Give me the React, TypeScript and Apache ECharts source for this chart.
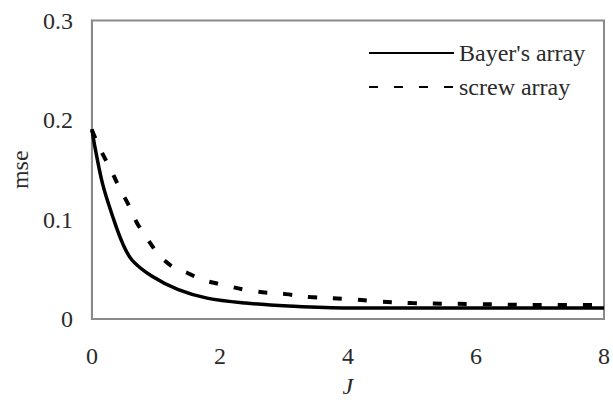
import React, { useEffect, useRef } from "react";
import * as echarts from "echarts";

const bayerJ = [0, 0.05, 0.17, 0.33, 0.48, 0.63, 0.94, 1.35, 1.8, 2.4, 3.07, 4, 5, 6, 7, 8];
const bayerMse = [0.191, 0.172, 0.135, 0.102, 0.076, 0.059, 0.043, 0.0295, 0.021, 0.016, 0.013, 0.011, 0.011, 0.011, 0.011, 0.011];

const screwJ = [0, 0.12, 0.28, 0.43, 0.57, 0.7, 0.83, 1.01, 1.14, 1.3, 1.5, 1.7, 2.0, 2.52, 3.03, 3.41, 4.02, 4.4, 5.0, 6.0, 7.0, 8.0];
const screwMse = [0.19, 0.172, 0.152, 0.132, 0.115, 0.097, 0.084, 0.0675, 0.0585, 0.051, 0.046, 0.04, 0.035, 0.028, 0.025, 0.022, 0.02, 0.018, 0.016, 0.015, 0.014, 0.014];

const seriesNames = ["Bayer's array", "screw array"];
const xTicks = { min: 0, max: 8, interval: 2 };
const yTicks = { min: 0, max: 0.3, interval: 0.1 };

const FONT = "'Liberation Serif', 'Times New Roman', serif";
const TEXT = "#2a2a2a";

export default function App() {
  const ref = useRef<HTMLDivElement>(null);
  useEffect(() => {
    if (!ref.current) return;
    const chart = echarts.init(ref.current, null, { renderer: "svg" });
    chart.setOption({
      animation: false,
      backgroundColor: "#ffffff",
      textStyle: { fontFamily: FONT },
      grid: {
        left: 82,
        right: 8,
        top: 20.5,
        bottom: 80,
        show: true,
        borderColor: "#8a8a8a",
        borderWidth: 2,
        backgroundColor: "transparent",
      },
      legend: {
        orient: "vertical",
        left: 363,
        top: 36,
        itemWidth: 85,
        itemHeight: 14,
        itemGap: 10,
        itemStyle: { opacity: 0 },
        textStyle: { fontFamily: FONT, fontSize: 24, color: TEXT, lineHeight: 24 },
        data: seriesNames,
      },
      xAxis: {
        type: "value",
        min: xTicks.min,
        max: xTicks.max,
        interval: xTicks.interval,
        name: "J",
        nameLocation: "middle",
        nameGap: 55,
        nameTextStyle: { fontFamily: FONT, fontSize: 24, fontStyle: "italic", color: TEXT },
        axisLine: { show: true, lineStyle: { color: "#8a8a8a", width: 2 } },
        axisTick: { show: false },
        splitLine: { show: false },
        axisLabel: { fontFamily: FONT, fontSize: 24, color: TEXT, margin: 25 },
      },
      yAxis: {
        type: "value",
        min: yTicks.min,
        max: yTicks.max,
        interval: yTicks.interval,
        name: "mse",
        nameLocation: "middle",
        nameGap: 55,
        nameTextStyle: { fontFamily: FONT, fontSize: 24, color: TEXT },
        axisLine: { show: true, lineStyle: { color: "#8a8a8a", width: 2 } },
        axisTick: { show: false },
        splitLine: { show: false },
        axisLabel: {
          fontFamily: FONT,
          fontSize: 24,
          color: TEXT,
          margin: 19,
          formatter: (v: number) => String(Math.round(v * 10) / 10),
        },
      },
      series: [
        {
          name: seriesNames[0],
          type: "line",
          data: bayerJ.map((x, i) => [x, bayerMse[i]]),
          smooth: 0.35,
          symbol: "none",
          lineStyle: { color: "#000", width: 3.5, type: "solid" },
          itemStyle: { color: "#000" },
        },
        {
          name: seriesNames[1],
          type: "line",
          data: screwJ.map((x, i) => [x, screwMse[i]]),
          smooth: 0.35,
          symbol: "none",
          lineStyle: { color: "#000", width: 4, type: [9, 16] },
          itemStyle: { color: "#000" },
        },
      ],
    });
    return () => chart.dispose();
  }, []);
  return <div ref={ref} style={{ width: 613, height: 403, position: "absolute", left: 0, top: 0 }} />;
}
